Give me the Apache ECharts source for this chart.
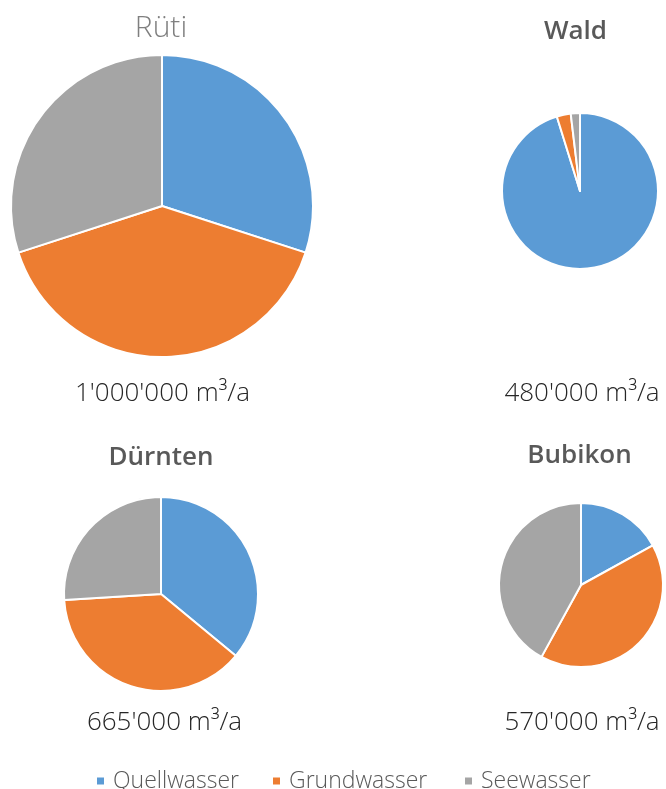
<!DOCTYPE html>
<html>
<head>
<meta charset="utf-8">
<script src="https://cdn.jsdelivr.net/npm/echarts@6/dist/echarts.min.js"></script>
<style>
  html, body { margin: 0; padding: 0; background: #fff; }
  #chart { width: 666px; height: 789px; }
</style>
</head>
<body>
<div id="chart"></div>
<script>
// Water sources per municipality (share in %)
const sources = ['Quellwasser', 'Grundwasser', 'Seewasser'];
const colors = ['#5B9BD5', '#ED7D31', '#A5A5A5'];

const towns = ['Rüti', 'Wald', 'Dürnten', 'Bubikon'];
const ruti = [30, 40, 30];
const wald = [95.2, 2.9, 1.9];
const duernten = [36, 38, 26];
const bubikon = [17, 41, 42];
const volumes = ["1'000'000 m³/a", "480'000 m³/a", "665'000 m³/a", "570'000 m³/a"];

const shares = [ruti, wald, duernten, bubikon];

// pie centre/radius plus title and volume label anchors (text middle)
const layout = [
  { c: [162, 206], r: 151, tx: 161,   ty: 28,  vx: 162.5, vy: 394, light: true },
  { c: [580, 191], r: 78,  tx: 575.5, ty: 32,  vx: 582,   vy: 394 },
  { c: [161, 594], r: 97,  tx: 161,   ty: 458, vx: 164.5, vy: 723 },
  { c: [581, 585], r: 82,  tx: 579.5, ty: 456, vx: 582,   vy: 723 }
];

const FONT = '"Open Sans", "Noto Sans", sans-serif';

const texts = [];
const series = [];
towns.forEach((t, i) => {
  const L = layout[i];
  texts.push({
    type: 'text', x: L.tx, y: L.ty, silent: true,
    style: Object.assign({ text: t, align: 'center', verticalAlign: 'middle', fontFamily: FONT },
      L.light
        ? { fontSize: 30, fontWeight: 300, fill: '#7F7F7F' }
        : { fontSize: 26, fontWeight: 600, fill: '#595959' })
  });
  texts.push({
    type: 'text', x: L.vx, y: L.vy, silent: true,
    style: { text: volumes[i], align: 'center', verticalAlign: 'middle', fontFamily: FONT,
             fontSize: 26, fontWeight: 300, fill: '#262626' }
  });
  series.push({
    type: 'pie',
    name: t,
    center: L.c,
    radius: L.r,
    startAngle: 90,
    clockwise: true,
    label: { show: false },
    labelLine: { show: false },
    emphasis: { disabled: true },
    itemStyle: { borderColor: '#ffffff', borderWidth: 2 },
    data: sources.map((s, k) => ({ name: s, value: shares[i][k], itemStyle: { color: colors[k] } }))
  });
});

const legendX = [90, 266, 458];
const legends = sources.map((s, k) => ({
  data: [s],
  left: legendX[k],
  top: 762,
  icon: 'rect',
  itemWidth: 9,
  itemHeight: 9,
  itemGap: 0,
  selectedMode: false,
  textStyle: { fontFamily: FONT, fontSize: 23, fontWeight: 300, color: '#595959', lineHeight: 28, padding: [0, 0, 0, 3] }
}));

const chart = echarts.init(document.getElementById('chart'), null, { renderer: 'canvas' });
chart.setOption({
  backgroundColor: '#ffffff',
  animation: false,
  color: colors,
  legend: legends,
  graphic: texts,
  series: series
});
</script>
</body>
</html>
